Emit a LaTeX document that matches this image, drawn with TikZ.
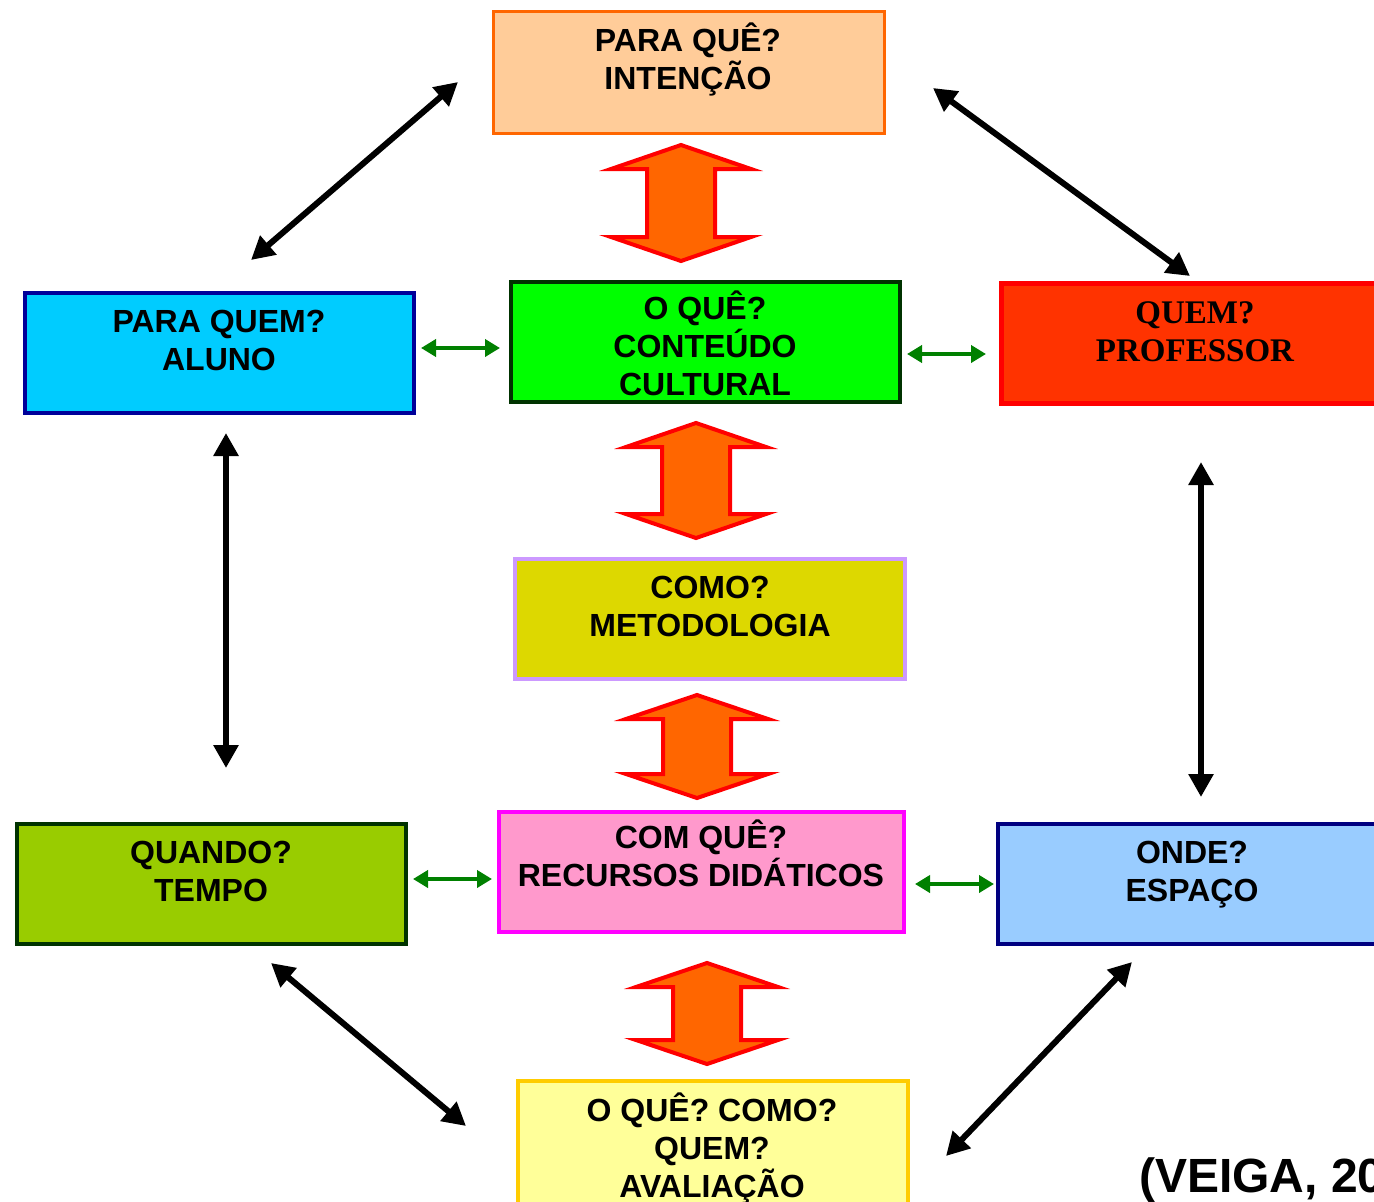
\documentclass[tikz,border=0pt]{standalone}
\usepackage{fontspec}
\setmainfont{Liberation Sans}
\newfontfamily\serifbold{Liberation Serif}
\usetikzlibrary{arrows.meta}
\definecolor{cPQfill}{HTML}{FFCC99}\definecolor{cPQdraw}{HTML}{FF6600}
\definecolor{cALfill}{HTML}{00CCFF}\definecolor{cALdraw}{HTML}{000099}
\definecolor{cOQfill}{HTML}{00FF00}\definecolor{cOQdraw}{HTML}{003300}
\definecolor{cQMfill}{HTML}{FF3300}\definecolor{cQMdraw}{HTML}{FF0000}
\definecolor{cCOfill}{HTML}{DDD800}\definecolor{cCOdraw}{HTML}{CC99FF}
\definecolor{cQDfill}{HTML}{99CC00}\definecolor{cQDdraw}{HTML}{003300}
\definecolor{cCQfill}{HTML}{FF99CC}\definecolor{cCQdraw}{HTML}{FF00FF}
\definecolor{cONfill}{HTML}{99CCFF}\definecolor{cONdraw}{HTML}{000080}
\definecolor{cAVfill}{HTML}{FFFF99}\definecolor{cAVdraw}{HTML}{FFCC00}
\definecolor{cArrOr}{HTML}{FF6600}
\definecolor{cArrGr}{HTML}{008000}
\newcommand\ls{\rule[-9pt]{0pt}{38pt}}
\newcommand\dblarr[4]{% cx, outer top, outer bottom, outer half width
  \filldraw[orng] (#1,#2+2) -- (#1+#4-10,#2+26) -- (#1+34,#2+26) -- (#1+34,#3-26)
    -- (#1+#4-10,#3-26) -- (#1,#3-2) -- (#1-#4+10,#3-26) -- (#1-34,#3-26)
    -- (#1-34,#2+26) -- (#1-#4+10,#2+26) -- cycle;}
\begin{document}
\begin{tikzpicture}[x=1pt,y=-1pt,
  box/.style={rectangle, inner sep=0pt, line width=4pt},
  lbl/.style={font=\bfseries\fontsize{32}{38}\selectfont, align=center, inner sep=0pt, text=black},
  lbls/.style={font=\serifbold\bfseries\fontsize{33}{38}\selectfont, align=center, inner sep=0pt, text=black},
  blk/.style={line width=6pt, {Triangle[length=23pt,width=24pt]}-{Triangle[length=23pt,width=24pt]}},
  grn/.style={draw=cArrGr, line width=4pt, {Triangle[length=15pt,width=17pt]}-{Triangle[length=15pt,width=17pt]}},
  orng/.style={fill=cArrOr, draw=red, line width=4pt, line join=miter}]
\useasboundingbox (0,0) rectangle (1374,1202);
\fill[white] (0,0) rectangle (1374,1202);

% boxes
\node[box, line width=3pt, fill=cPQfill, draw=cPQdraw, minimum width=391pt, minimum height=122pt] (pq) at (689,72.5) {};
\node[box, fill=cALfill, draw=cALdraw, minimum width=389pt, minimum height=120pt] (al) at (219.5,353) {};
\node[box, fill=cOQfill, draw=cOQdraw, minimum width=389pt, minimum height=120pt] (oq) at (705.5,342) {};
\node[box, line width=5pt, fill=cQMfill, draw=cQMdraw, minimum width=390pt, minimum height=120pt] (qm) at (1196.5,343.5) {};
\node[box, fill=cCOfill, draw=cCOdraw, minimum width=390pt, minimum height=120pt] (co) at (710,619) {};
\node[box, fill=cQDfill, draw=cQDdraw, minimum width=389pt, minimum height=120pt] (qd) at (211.5,884) {};
\node[box, fill=cCQfill, draw=cCQdraw, minimum width=405pt, minimum height=120pt] (cq) at (701.5,872) {};
\node[box, fill=cONfill, draw=cONdraw, minimum width=392pt, minimum height=120pt] (on) at (1194,884) {};
\node[box, fill=cAVfill, draw=cAVdraw, minimum width=390pt, minimum height=140pt] (av) at (713,1151) {};

% labels
\node[lbl] (pqt) at (688,60.5) {PARA QUÊ?\ls\\INTENÇÃO\ls};
\node[lbl] (alt) at (219,341.5) {PARA QUEM?\ls\\ALUNO\ls};
\node[lbl] (oqt) at (705,347) {O QUÊ?\ls\\CONTEÚDO\ls\\CULTURAL\ls};
\node[lbls] (qmt) at (1195,332.5) {QUEM?\ls\\PROFESSOR\ls};
\node[lbl] (cot) at (710,607.5) {COMO?\ls\\METODOLOGIA\ls};
\node[lbl] (qdt) at (211,872.5) {QUANDO?\ls\\TEMPO\ls};
\node[lbl] (cqt) at (701,857) {COM QUÊ?\ls\\RECURSOS DIDÁTICOS\ls};
\node[lbl] (ont) at (1192,872.5) {ONDE?\ls\\ESPAÇO\ls};
\node[lbl] (avt) at (712,1149.5) {O QUÊ? COMO?\ls\\QUEM?\ls\\AVALIAÇÃO\ls};
\node[anchor=base west, inner sep=0pt, font=\bfseries\fontsize{48}{56}\selectfont] (ref) at (1139,1192) {(VEIGA, 20};

% orange block arrows
\dblarr{681}{143}{263}{80}
\dblarr{696}{421}{540}{80}
\dblarr{697}{693}{800}{81}
\dblarr{707}{961}{1066}{81}

% black arrows
\coordinate (b1a) at (458,82);   \coordinate (b1b) at (251,260);
\coordinate (b2a) at (933,88);   \coordinate (b2b) at (1190,276);
\coordinate (b3a) at (226,433);  \coordinate (b3b) at (226,768);
\coordinate (b4a) at (1201,462); \coordinate (b4b) at (1201,797);
\coordinate (b5a) at (271,963);  \coordinate (b5b) at (466,1126);
\coordinate (b6a) at (1132,962); \coordinate (b6b) at (946,1156);
\draw[blk] (b1a) -- (b1b);
\draw[blk] (b2a) -- (b2b);
\draw[blk] (b3a) -- (b3b);
\draw[blk] (b4a) -- (b4b);
\draw[blk] (b5a) -- (b5b);
\draw[blk] (b6a) -- (b6b);

% green arrows
\coordinate (g1a) at (421,348); \coordinate (g1b) at (500,348);
\coordinate (g2a) at (907,354); \coordinate (g2b) at (986,354);
\coordinate (g3a) at (413,879); \coordinate (g3b) at (492,879);
\coordinate (g4a) at (915,884); \coordinate (g4b) at (994,884);
\draw[grn] (g1a) -- (g1b);
\draw[grn] (g2a) -- (g2b);
\draw[grn] (g3a) -- (g3b);
\draw[grn] (g4a) -- (g4b);
\end{tikzpicture}
\end{document}
